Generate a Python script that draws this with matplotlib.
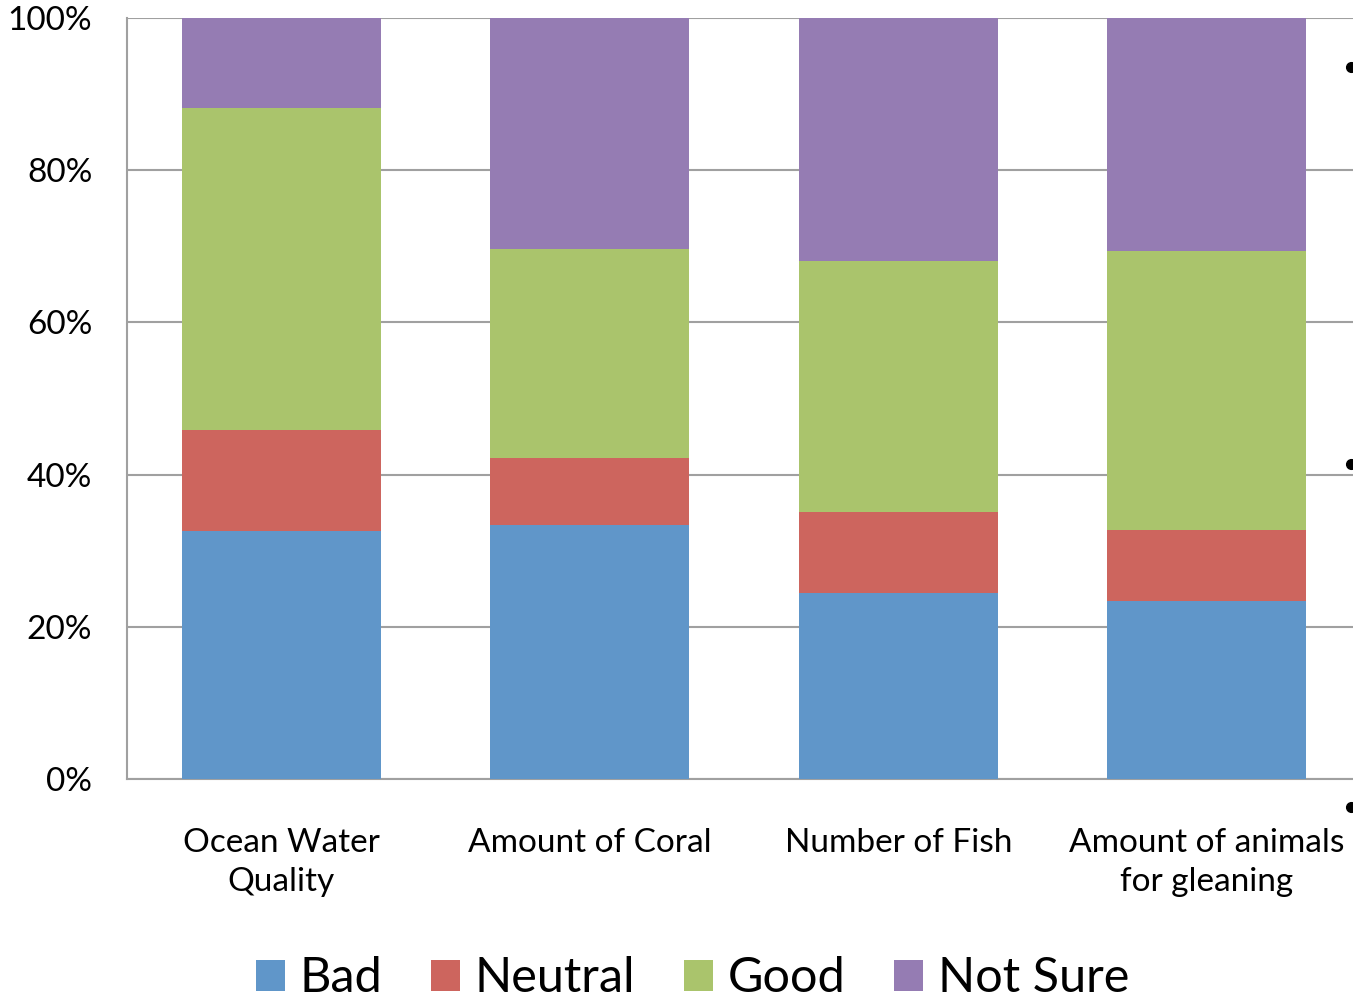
import matplotlib.pyplot as plt
from matplotlib.lines import Line2D
import numpy as np

plt.rcParams['font.family'] = ['Lato', 'DejaVu Sans']

categories = ['Ocean Water\nQuality', 'Amount of Coral', 'Number of Fish', 'Amount of animals\nfor gleaning']
bad = [32.6, 33.4, 24.4, 23.4]
neutral = [13.3, 8.8, 10.7, 9.3]
good = [42.3, 27.4, 33.0, 36.7]
not_sure = [11.8, 30.4, 31.9, 30.6]

series = [('Bad', bad, '#6096C9'),
          ('Neutral', neutral, '#CD655E'),
          ('Good', good, '#AAC46C'),
          ('Not Sure', not_sure, '#957CB3')]

fig = plt.figure(figsize=(13.53, 9.99), dpi=100)
W, H = 1353, 999
ax = fig.add_axes([127 / W, (H - 779) / H, 1234 / W, 761 / H])

x = np.arange(len(categories))
bottom = np.zeros(len(categories))
for name, vals, col in series:
    ax.bar(x, vals, width=0.645, bottom=bottom, color=col, label=name, zorder=3)
    bottom += np.array(vals)

ax.set_xlim(-0.5, 3.5)
ax.set_ylim(0, 100)
ax.set_yticks([0, 20, 40, 60, 80, 100])
ax.set_yticklabels(['0%', '20%', '40%', '60%', '80%', '100%'])
ax.set_xticks(x)
ax.set_xticklabels(categories, linespacing=1.4)
ax.tick_params(axis='both', length=0, labelsize=24)
ax.tick_params(axis='y', pad=25)
ax.tick_params(axis='x', pad=35)
ax.grid(axis='y', color='#A0A0A0', linewidth=1.5, zorder=0)
for s in ['top', 'right']:
    ax.spines[s].set_visible(False)
for s in ['left', 'bottom']:
    ax.spines[s].set_color('#A0A0A0')
    ax.spines[s].set_linewidth(1.5)

fig.legend(loc='lower center', bbox_to_anchor=(0.512, -0.045), ncol=4, frameon=False,
           fontsize=35, handlelength=0.6, handleheight=0.6, handletextpad=0.3,
           columnspacing=1.0)

# bullet markers along the right edge
for yy in [67, 464, 807]:
    fig.add_artist(Line2D([1351 / W], [1 - yy / H], marker='o', markersize=7,
                          color='black', transform=fig.transFigure))

fig.savefig('out.png', dpi=100)
